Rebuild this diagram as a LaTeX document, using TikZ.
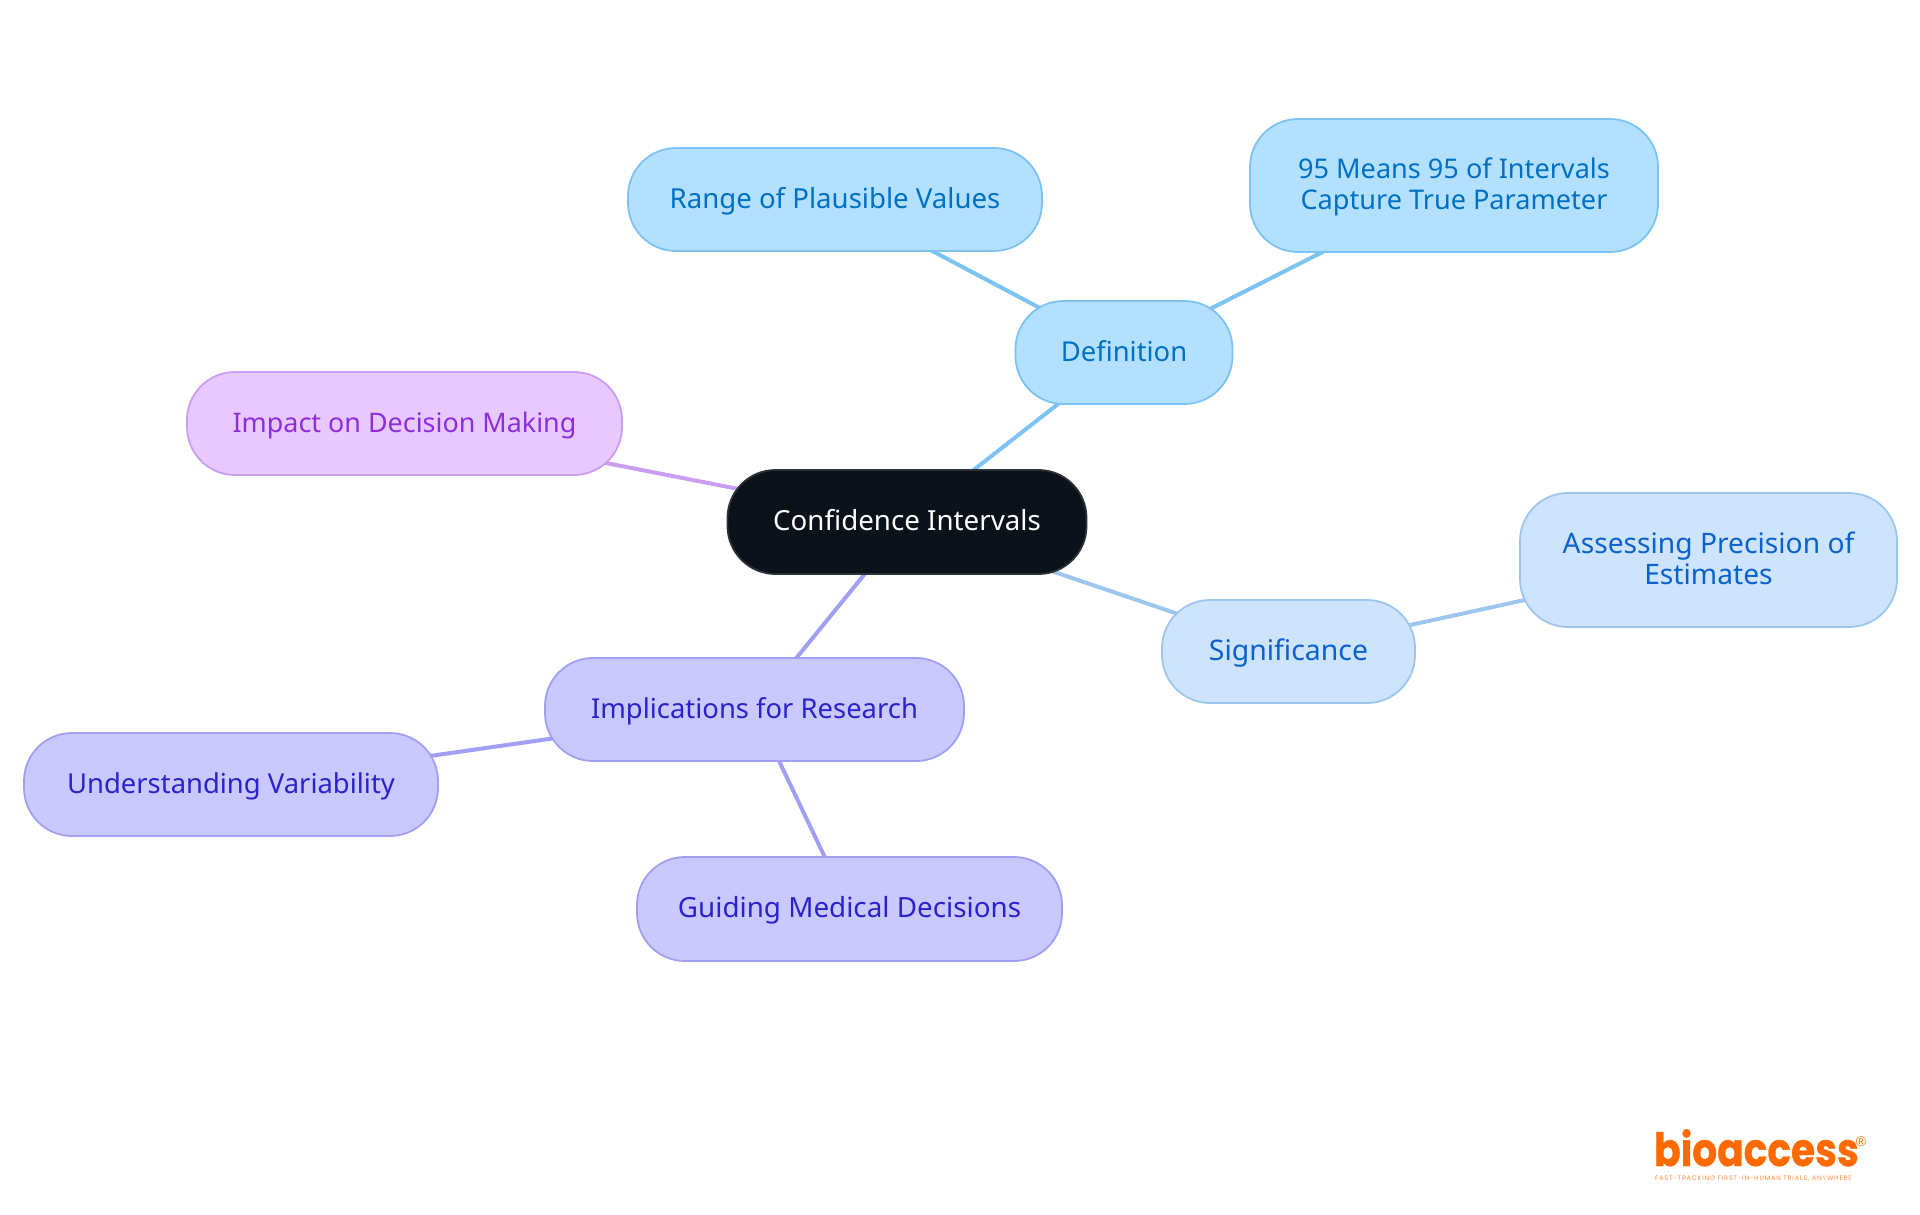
\documentclass[tikz,border=0pt]{standalone}
\usepackage{fontspec}
\setmainfont{Noto Sans}
\newfontfamily\logofont[BoldFeatures={FakeBold=0.8}]{Poppins}
\newfontfamily\tagfont[LetterSpace=11]{Poppins}
\newfontfamily\regfont{Liberation Sans}
\usetikzlibrary{backgrounds}
\definecolor{defFill}{HTML}{B3E0FF}\definecolor{defLine}{HTML}{7CC3F3}\definecolor{defText}{HTML}{0070C4}
\definecolor{sigFill}{HTML}{CEE3FC}\definecolor{sigLine}{HTML}{9CC5F0}\definecolor{sigText}{HTML}{0B62CC}
\definecolor{impFill}{HTML}{C9C9FF}\definecolor{impLine}{HTML}{A09FF3}\definecolor{impText}{HTML}{2C22CC}
\definecolor{decFill}{HTML}{E7C9FF}\definecolor{decLine}{HTML}{CB9DF0}\definecolor{decText}{HTML}{8E2DDB}
\definecolor{rootFill}{HTML}{0C121A}\definecolor{rootLine}{HTML}{2C3138}
\definecolor{logoOrange}{HTML}{FF6A00}
\newcommand{\lineprop}{\rule[-7pt]{0pt}{31pt}}
\newcommand{\lineduo}{\rule[-6pt]{0pt}{30pt}}
\tikzset{
  x=1pt,y=-1pt,
  pill/.style={rounded corners=48pt,line width=1.8pt,align=center,inner sep=0pt,font=\fontsize{#1}{30.6}\selectfont},
  pill/.default=27.4,
  defpill/.style={pill=#1,fill=defFill,draw=defLine,text=defText},
  defpill/.default=27.4,
  sigpill/.style={pill=#1,fill=sigFill,draw=sigLine,text=sigText},
  sigpill/.default=27.4,
  imppill/.style={pill=#1,fill=impFill,draw=impLine,text=impText},
  imppill/.default=27.4,
  decpill/.style={pill=#1,fill=decFill,draw=decLine,text=decText},
  decpill/.default=27.4,
  rootpill/.style={pill=#1,fill=rootFill,draw=rootLine,text=white},
  rootpill/.default=27.4,
  link/.style={line width=4pt},
}
\begin{document}
\begin{tikzpicture}
\useasboundingbox (0,0) rectangle (1920,1215);
\node[rootpill=27.7,minimum width=359pt,minimum height=104pt] (root) at (907,522) {\lineprop Confidence Intervals};
\node[defpill,minimum width=217pt,minimum height=103pt] (def) at (1124,352.5) {\lineprop Definition};
\node[defpill=27.6,minimum width=414pt,minimum height=103pt] (range) at (835,199.5) {\lineprop Range of Plausible Values};
\node[defpill=27.1,minimum width=408pt,minimum height=133pt] (means) at (1454,185.5) {\lineduo 95 Means 95 of Intervals\\\lineduo Capture True Parameter};
\node[sigpill=28.4,minimum width=253pt,minimum height=103pt] (sig) at (1288.5,651.5) {\lineprop Significance};
\node[sigpill=28.2,minimum width=377pt,minimum height=134pt] (assess) at (1708.5,560) {\lineduo Assessing Precision of\\\lineduo Estimates};
\node[imppill,minimum width=419pt,minimum height=103pt] (impl) at (754.5,709.5) {\lineprop Implications for Research};
\node[imppill,minimum width=414pt,minimum height=103pt] (under) at (231,784.5) {\lineprop Understanding Variability};
\node[imppill=27.8,minimum width=425pt,minimum height=104pt] (guide) at (849.5,909) {\lineprop Guiding Medical Decisions};
\node[decpill=26.9,minimum width=435pt,minimum height=103pt] (dec) at (404.5,423.5) {\lineprop Impact on Decision Making};
\begin{scope}[on background layer]
\draw[link,defLine] (root.center) -- (def.center);
\draw[link,defLine] (def.center) -- (range.center);
\draw[link,defLine] (def.center) -- (means.center);
\draw[link,sigLine] (root.center) -- (sig.center);
\draw[link,sigLine] (sig.center) -- (assess.center);
\draw[link,impLine] (root.center) -- (impl.center);
\draw[link,impLine] (impl.center) -- (under.center);
\draw[link,impLine] (impl.center) -- (guide.center);
\draw[link,decLine] (root.center) -- (dec.center);
\end{scope}
\node[anchor=base west,inner sep=0pt,text=logoOrange] (logo) at (1654,1166) {\scalebox{0.85}[1]{\logofont\bfseries\fontsize{46}{46}\selectfont bioaccess}};
\node[anchor=center,inner sep=0pt,text=logoOrange] (reg) at (1861,1142) {\regfont\fontsize{14}{14}\selectfont ®};
\node[anchor=base west,inner sep=0pt,text=logoOrange!75] (tag) at (1655,1180) {\tagfont\fontsize{6.6}{7}\selectfont FAST-TRACKING FIRST-IN-HUMAN TRIALS, ANYWHERE};
\end{tikzpicture}
\end{document}
